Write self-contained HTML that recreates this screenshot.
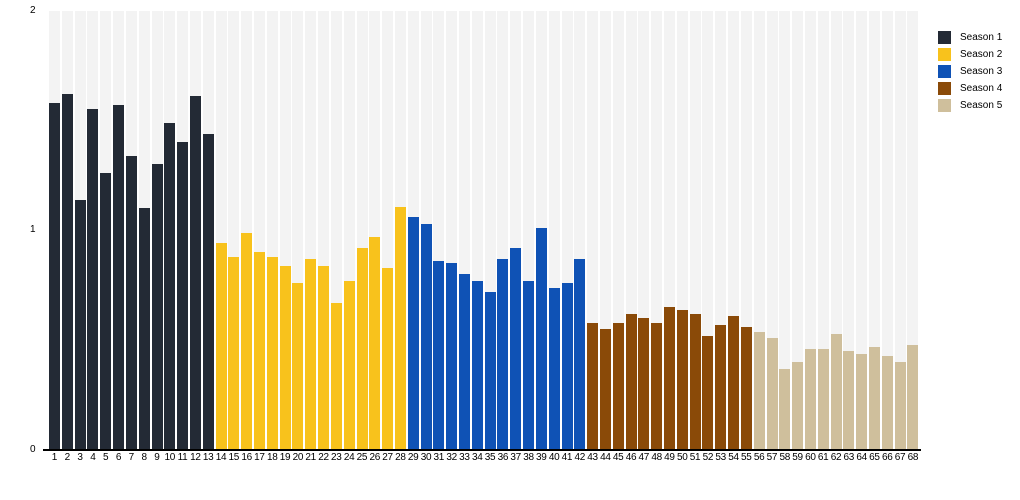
<!DOCTYPE html>
<html><head><meta charset="utf-8"><style>
body{margin:0;width:1020px;height:500px;background:#fff;font-family:"Liberation Sans",sans-serif;position:relative;overflow:hidden}
#plot{position:absolute;left:48px;top:11px;width:872px;height:439px;display:flex}
#plot div{flex:0 0 12.823px;position:relative}
#plot div::before{content:"";position:absolute;left:1px;width:11px;top:0;bottom:0;background:#f3f3f3}
#plot div i{position:absolute;left:1px;width:11px;bottom:0}
.a i{background:#232a35}.b i{background:#f8c21c}.c i{background:#0f52b5}.d i{background:#8a4a08}.e i{background:#cfbf9c}
#axis{position:absolute;left:43px;top:449px;width:878px;height:1.5px;background:#000}
#lab{position:absolute;left:48px;top:452px;width:872px;display:flex;font-size:10px;letter-spacing:-0.3px}
#lab span{flex:0 0 12.823px;text-align:center;white-space:nowrap}
.y{position:absolute;left:30px;font-size:10px}
.lg{position:absolute;left:938px;font-size:10px}
.lg b{position:absolute;left:0;top:0;width:13px;height:13px}
.lg span{position:absolute;left:22px;top:1px;white-space:nowrap}
</style></head><body>
<div class="y" style="top:5px">2</div>
<div class="y" style="top:224px">1</div>
<div class="y" style="top:444px">0</div>
<div id="plot">
<div class="a"><i style="height:347px"></i></div><div class="a"><i style="height:356px"></i></div><div class="a"><i style="height:250px"></i></div><div class="a"><i style="height:341px"></i></div><div class="a"><i style="height:277px"></i></div><div class="a"><i style="height:345px"></i></div><div class="a"><i style="height:294px"></i></div><div class="a"><i style="height:242px"></i></div><div class="a"><i style="height:286px"></i></div><div class="a"><i style="height:327px"></i></div><div class="a"><i style="height:308px"></i></div><div class="a"><i style="height:354px"></i></div><div class="a"><i style="height:316px"></i></div>
<div class="b"><i style="height:207px"></i></div><div class="b"><i style="height:193px"></i></div><div class="b"><i style="height:217px"></i></div><div class="b"><i style="height:198px"></i></div><div class="b"><i style="height:193px"></i></div><div class="b"><i style="height:184px"></i></div><div class="b"><i style="height:167px"></i></div><div class="b"><i style="height:191px"></i></div><div class="b"><i style="height:184px"></i></div><div class="b"><i style="height:147px"></i></div><div class="b"><i style="height:169px"></i></div><div class="b"><i style="height:202px"></i></div><div class="b"><i style="height:213px"></i></div><div class="b"><i style="height:182px"></i></div><div class="b"><i style="height:243px"></i></div>
<div class="c"><i style="height:233px"></i></div><div class="c"><i style="height:226px"></i></div><div class="c"><i style="height:189px"></i></div><div class="c"><i style="height:187px"></i></div><div class="c"><i style="height:176px"></i></div><div class="c"><i style="height:169px"></i></div><div class="c"><i style="height:158px"></i></div><div class="c"><i style="height:191px"></i></div><div class="c"><i style="height:202px"></i></div><div class="c"><i style="height:169px"></i></div><div class="c"><i style="height:222px"></i></div><div class="c"><i style="height:162px"></i></div><div class="c"><i style="height:167px"></i></div><div class="c"><i style="height:191px"></i></div>
<div class="d"><i style="height:127px"></i></div><div class="d"><i style="height:121px"></i></div><div class="d"><i style="height:127px"></i></div><div class="d"><i style="height:136px"></i></div><div class="d"><i style="height:132px"></i></div><div class="d"><i style="height:127px"></i></div><div class="d"><i style="height:143px"></i></div><div class="d"><i style="height:140px"></i></div><div class="d"><i style="height:136px"></i></div><div class="d"><i style="height:114px"></i></div><div class="d"><i style="height:125px"></i></div><div class="d"><i style="height:134px"></i></div><div class="d"><i style="height:123px"></i></div>
<div class="e"><i style="height:118px"></i></div><div class="e"><i style="height:112px"></i></div><div class="e"><i style="height:81px"></i></div><div class="e"><i style="height:88px"></i></div><div class="e"><i style="height:101px"></i></div><div class="e"><i style="height:101px"></i></div><div class="e"><i style="height:116px"></i></div><div class="e"><i style="height:99px"></i></div><div class="e"><i style="height:96px"></i></div><div class="e"><i style="height:103px"></i></div><div class="e"><i style="height:94px"></i></div><div class="e"><i style="height:88px"></i></div><div class="e"><i style="height:105px"></i></div>
</div>
<div id="axis"></div>
<div id="lab"><span>1</span><span>2</span><span>3</span><span>4</span><span>5</span><span>6</span><span>7</span><span>8</span><span>9</span><span>10</span><span>11</span><span>12</span><span>13</span><span>14</span><span>15</span><span>16</span><span>17</span><span>18</span><span>19</span><span>20</span><span>21</span><span>22</span><span>23</span><span>24</span><span>25</span><span>26</span><span>27</span><span>28</span><span>29</span><span>30</span><span>31</span><span>32</span><span>33</span><span>34</span><span>35</span><span>36</span><span>37</span><span>38</span><span>39</span><span>40</span><span>41</span><span>42</span><span>43</span><span>44</span><span>45</span><span>46</span><span>47</span><span>48</span><span>49</span><span>50</span><span>51</span><span>52</span><span>53</span><span>54</span><span>55</span><span>56</span><span>57</span><span>58</span><span>59</span><span>60</span><span>61</span><span>62</span><span>63</span><span>64</span><span>65</span><span>66</span><span>67</span><span>68</span></div>
<div class="lg" style="top:31px"><b style="background:#232a35"></b><span>Season 1</span></div>
<div class="lg" style="top:48px"><b style="background:#f8c21c"></b><span>Season 2</span></div>
<div class="lg" style="top:65px"><b style="background:#0f52b5"></b><span>Season 3</span></div>
<div class="lg" style="top:82px"><b style="background:#8a4a08"></b><span>Season 4</span></div>
<div class="lg" style="top:99px"><b style="background:#cfbf9c"></b><span>Season 5</span></div>
</body></html>
